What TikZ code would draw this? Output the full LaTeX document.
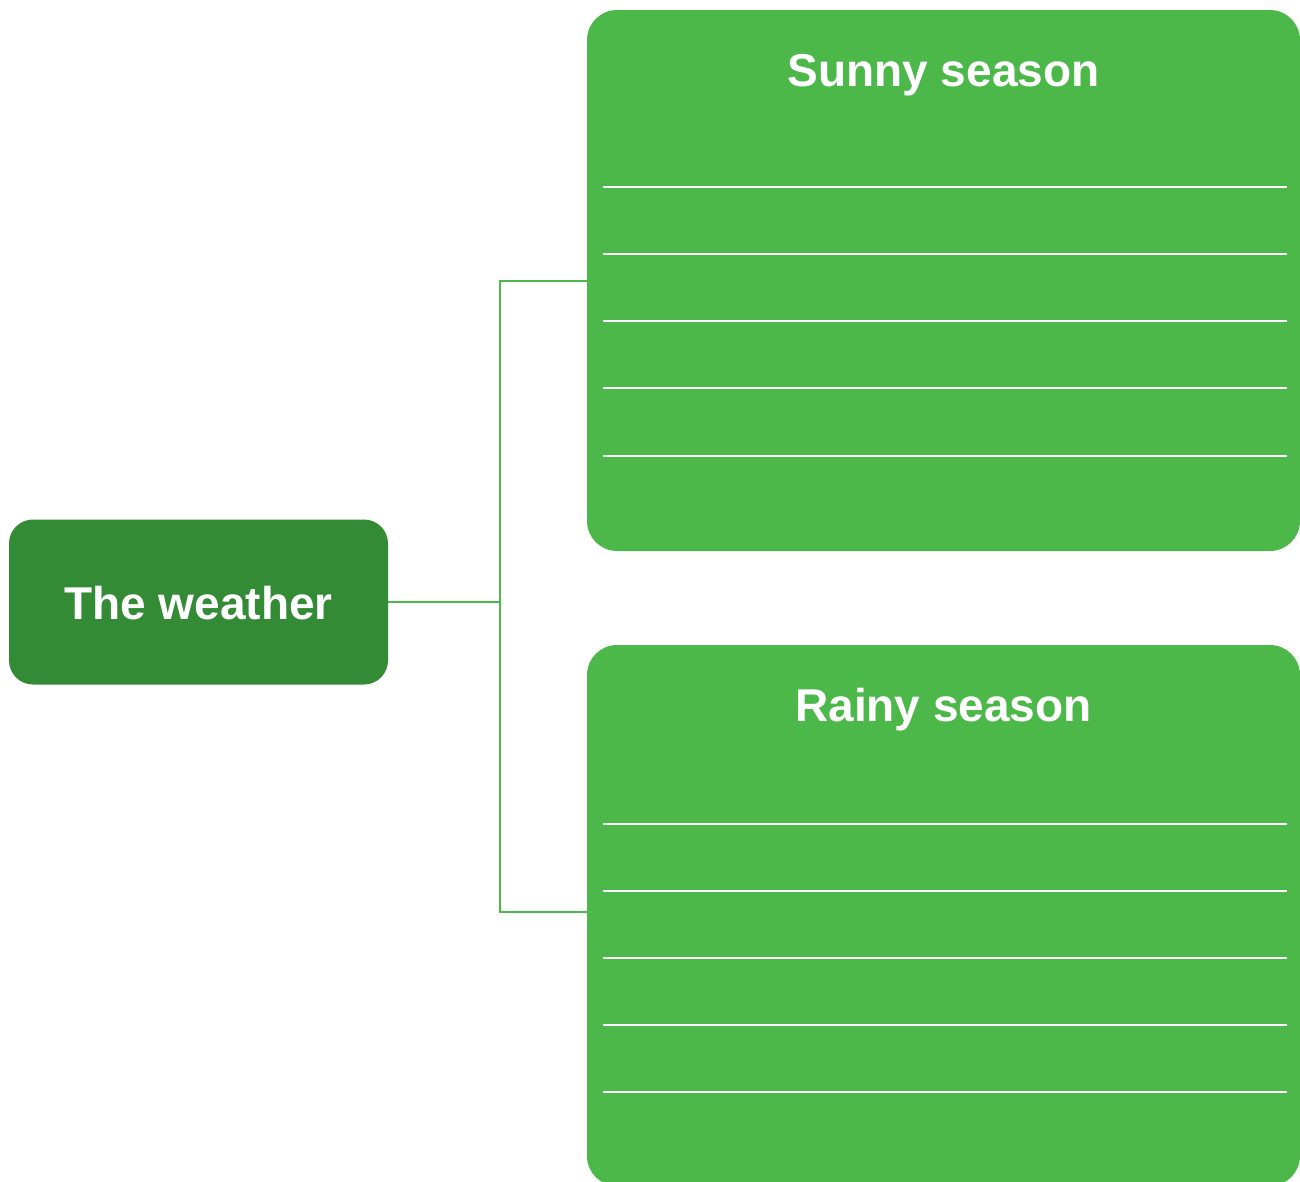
\documentclass[tikz,border=0pt]{standalone}
\usepackage{fontspec}
\setmainfont{Liberation Sans}
\definecolor{darkgr}{HTML}{338B36}
\definecolor{lightgr}{HTML}{4DB84A}
\begin{document}
\begin{tikzpicture}[x=1pt,y=-1pt,
  mainbox/.style={fill=darkgr,rounded corners=24pt,minimum width=379pt,minimum height=165pt,inner sep=0pt},
  seasonbox/.style={fill=lightgr,rounded corners=30pt,minimum width=713pt,minimum height=541pt,inner sep=0pt},
  label/.style={text=white,font=\fontsize{46}{50}\selectfont\bfseries,inner sep=0pt,anchor=base},
  rule/.style={draw=white,line width=2pt},
  conn/.style={draw=lightgr,line width=2pt}]
\useasboundingbox (0,0) rectangle (1300,1181);
\node[mainbox] (weather) at (198.5,602) {};
\node[label] (weathertxt) at (198.5,619) {The weather};
\node[seasonbox] (sunny) at (943.5,280.5) {};
\node[label] (sunnytxt) at (943.5,86) {Sunny season};
\node[seasonbox] (rainy) at (943.5,915.5) {};
\node[label] (rainytxt) at (943.5,721) {Rainy season};
\foreach \d in {177,244,311,378,446} {
  \draw[rule] ([shift={(16,\d)}]sunny.north west) -- ([shift={(-13,\d)}]sunny.north east);
}
\foreach \d in {179,246,313,380,447} {
  \draw[rule] ([shift={(16,\d)}]rainy.north west) -- ([shift={(-13,\d)}]rainy.north east);
}
\draw[conn] (weather.east) -- ++(112,0) coordinate (junction);
\draw[conn] (sunny.west |- 0,281) -| (junction) |- (rainy.west |- 0,912);
\end{tikzpicture}
\end{document}
